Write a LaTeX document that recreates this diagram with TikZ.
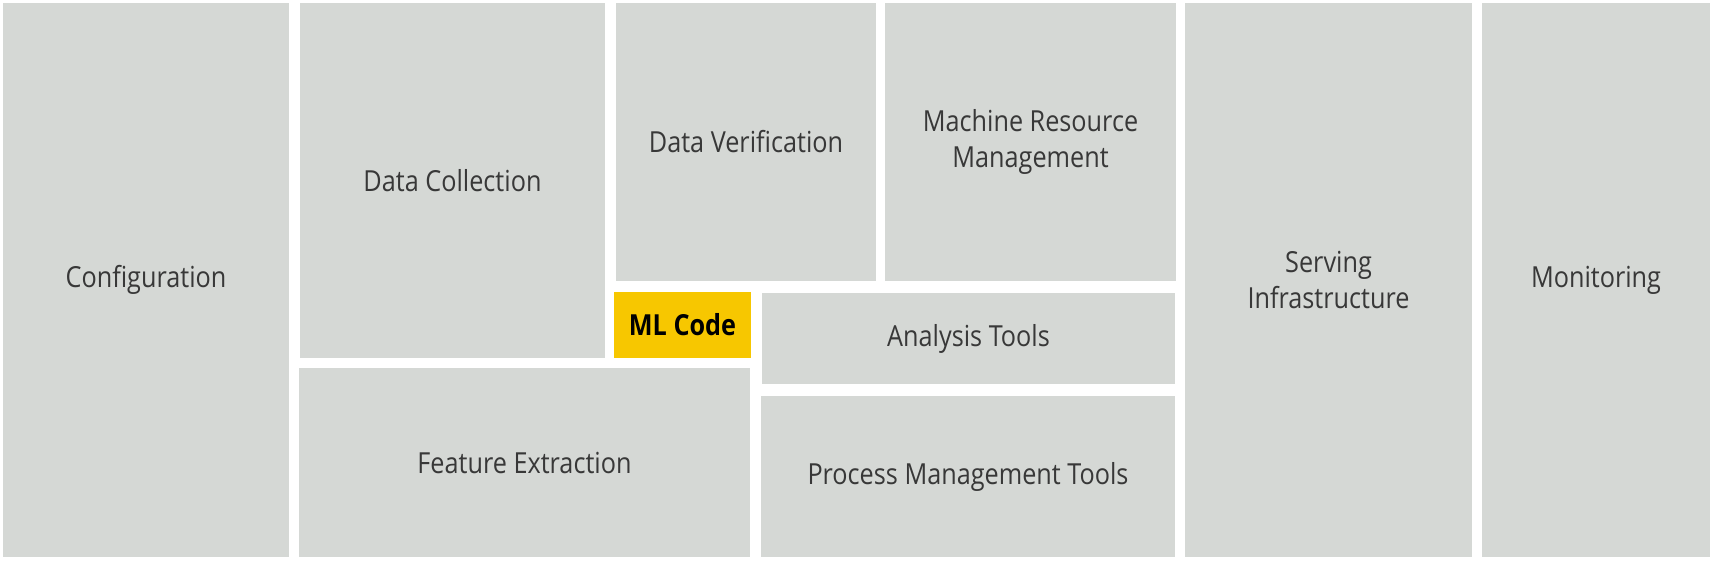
\documentclass[tikz,border=0pt]{standalone}
\usepackage{fontspec}
\setmainfont{Open Sans}[FakeStretch=0.87]
\usepackage{xcolor}
\definecolor{blkgray}{HTML}{D5D8D5}
\definecolor{blktext}{HTML}{383838}
\definecolor{mlyellow}{HTML}{F7C700}

\begin{document}
\begin{tikzpicture}[x=1pt, y=-1pt,
  blk/.style={fill=blkgray, inner sep=0pt, align=center, text=blktext,
    font=\fontsize{29}{36}\selectfont},
  mlblk/.style={blk, fill=mlyellow, text=black,
    font=\fontsize{29}{36}\selectfont\bfseries},
]
  \useasboundingbox[fill=white] (0,0) rectangle (1710,560);

  \node[blk, minimum width=286pt, minimum height=554pt] (cfg) at (146,280) {Configuration};
  \node[blk, minimum width=305pt, minimum height=355pt] (dc) at (452.5,180.5) {Data Collection};
  \node[blk, minimum width=260pt, minimum height=278pt] (dv) at (746,142) {Data Verification};
  \node[blk, minimum width=291pt, minimum height=278pt] (mrm) at (1030.5,142) {Machine Resource\\Management};
  \node[mlblk, minimum width=137pt, minimum height=66pt] (ml) at (682.5,325) {ML Code};
  \node[blk, minimum width=413pt, minimum height=91pt] (at) at (968.5,338.5) {Analysis Tools};
  \node[blk, minimum width=451pt, minimum height=189pt] (fe) at (524.5,462.5) {Feature Extraction};
  \node[blk, minimum width=414pt, minimum height=161pt] (pmt) at (968,476.5) {Process Management Tools};
  \node[blk, minimum width=287pt, minimum height=554pt] (si) at (1328.5,280) {Serving\\Infrastructure};
  \node[blk, minimum width=228pt, minimum height=554pt] (mon) at (1596,280) {Monitoring};

\end{tikzpicture}
\end{document}
